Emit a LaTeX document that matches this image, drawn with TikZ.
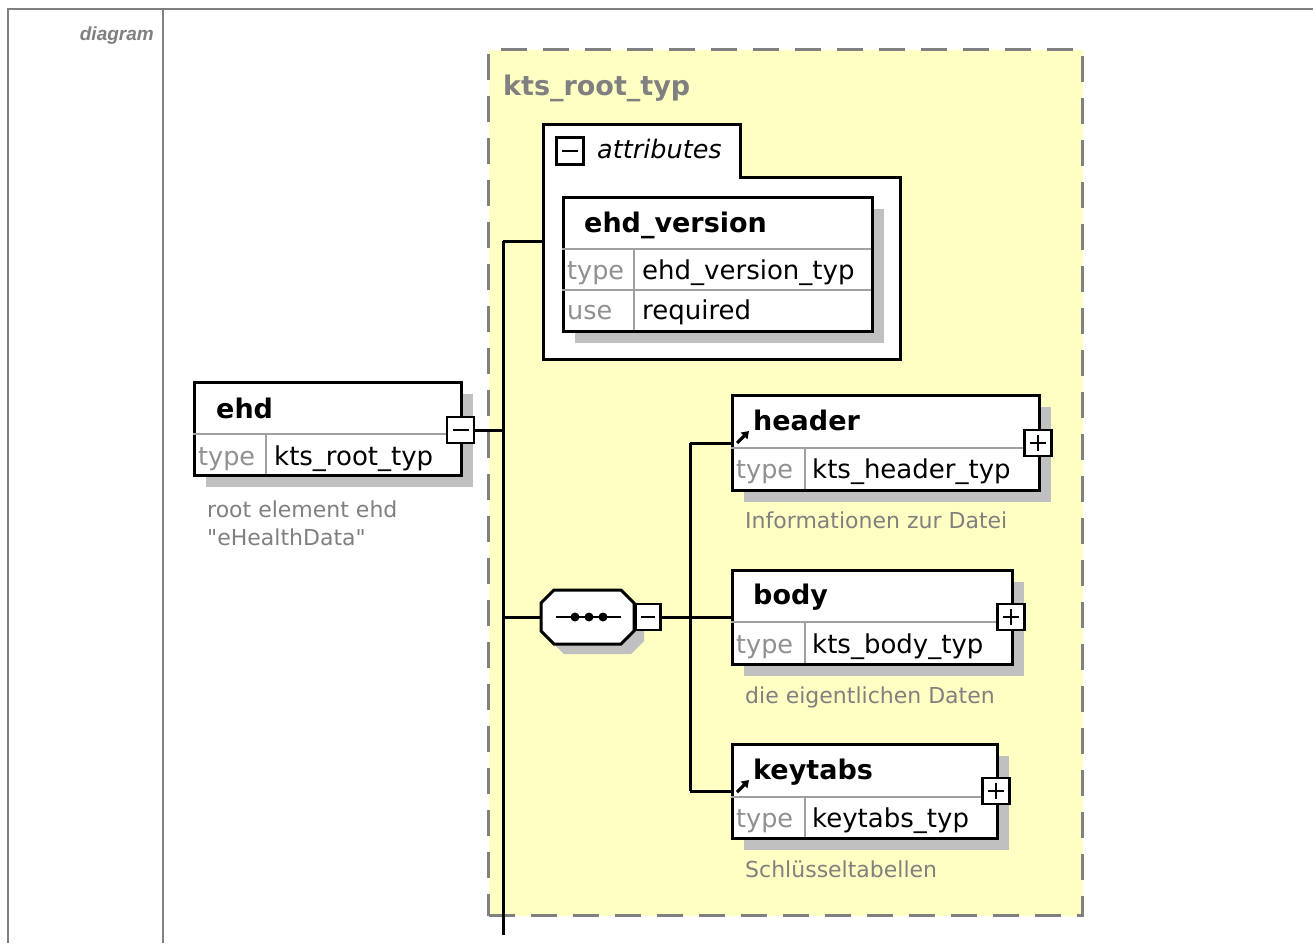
\documentclass[tikz,border=0pt]{standalone}
\usepackage{fontspec}
\setmainfont{DejaVu Sans}
\newfontfamily\cmtfont{DejaVu Sans}[Ligatures=TeXOff]
\newfontfamily\arialf{Liberation Sans}
\usetikzlibrary{shadows,arrows.meta}
\definecolor{ylw}{HTML}{FFFFC4}
\definecolor{framegray}{HTML}{808080}
\definecolor{shad}{HTML}{C0C0C0}
\definecolor{divgray}{HTML}{A0A0A0}
\definecolor{lblgray}{HTML}{909090}
\definecolor{cmtgray}{HTML}{808080}
\begin{document}
\begin{tikzpicture}[x=1pt,y=-1pt,
  ebox/.style={draw=black, line width=3pt, fill=white, inner sep=0pt, anchor=north west,
    drop shadow={shadow xshift=11pt, shadow yshift=-11pt, fill=shad, opacity=1}},
  div/.style={draw=divgray, line width=1.8pt},
  conn/.style={draw=black, line width=3pt},
  pm/.style={draw=black, line width=2.4pt, fill=white, minimum width=26pt, minimum height=26pt, inner sep=0pt},
  pmline/.style={draw=black, line width=2.4pt},
  bname/.style={anchor=base west, inner sep=0pt, font=\fontsize{27}{30}\selectfont\bfseries},
  rowlab/.style={anchor=base west, inner sep=0pt, font=\fontsize{25.5}{30}\selectfont, text=lblgray},
  rowval/.style={anchor=base west, inner sep=0pt, font=\fontsize{26}{30}\selectfont},
  cmt/.style={anchor=base west, inner sep=0pt, font=\cmtfont\fontsize{22}{25}\selectfont, text=cmtgray},
  refarrow/.style={draw=black, line width=3.2pt, -{Triangle[length=7pt,width=9pt]}},
]
\useasboundingbox (0,0) rectangle (1313,943);
\fill[white] (0,0) rectangle (1313,943);

% outer frame
\draw[framegray, line width=2.2pt] (7,9) -- (1313,9);
\draw[framegray, line width=2.2pt] (8,9) -- (8,943);
\draw[framegray, line width=2.2pt] (163,9) -- (163,943);
\node[anchor=base east, inner sep=0pt, font=\arialf\fontsize{19}{22}\selectfont\bfseries\itshape, text=framegray] (diaglbl) at (154,40) {diagram};

% complex type container
\node[draw=framegray, fill=ylw, line width=3pt, dash pattern=on 26pt off 16pt, inner sep=0pt,
  minimum width=594pt, minimum height=866pt, anchor=north west] (root) at (487,48) {};
\node[anchor=base west, inner sep=0pt, font=\fontsize{27}{30}\selectfont\bfseries, text=framegray] (roottitle) at (503,95) {kts\_root\_typ};

% attributes group
\draw[line width=3pt, fill=white] (543,124) -- (740,124) -- (740,177) -- (900,177) -- (900,359) -- (543,359) -- cycle;
\coordinate (attrL) at (543,241);
\node[pm, minimum width=27pt, minimum height=27pt] (attrmin) at (570,151) {};
\draw[pmline] ([xshift=-8pt]attrmin.center) -- ([xshift=8pt]attrmin.center);
\node[anchor=base west, inner sep=0pt, font=\fontsize{25.5}{30}\selectfont\itshape] (attrlbl) at (597,158) {attributes};

% ehd_version attribute
\node[ebox, minimum width=309pt, minimum height=134pt] (ver) at (562,196) {};
\draw[div] (562,249) -- (871,249);
\draw[div] (562,290) -- (871,290);
\draw[div] (634,249) -- (634,330);
\node[bname] (vername) at (584,232) {ehd\_version};
\node[rowlab] (vertl) at (567,279) {type};
\node[rowval] (vertv) at (642,279) {ehd\_version\_typ};
\node[rowlab] (verul) at (567,319) {use};
\node[rowval] (veruv) at (642,319) {required};

% ehd element
\node[ebox, minimum width=267pt, minimum height=93pt] (ehd) at (193,381) {};
\draw[div] (193,434) -- (460,434);
\draw[div] (266,434) -- (266,474);
\node[bname] (ehdname) at (216,418) {ehd};
\node[rowlab] (ehdtl) at (198,465) {type};
\node[rowval] (ehdtv) at (274,465) {kts\_root\_typ};
\node[cmt] (ehdc1) at (207,517) {root element ehd};
\node[cmt] (ehdc2) at (207,545) {"eHealthData"};
\node[pm, minimum width=27pt, minimum height=26pt] (ehdmin) at (460.5,430) {};
\draw[pmline] ([xshift=-8pt]ehdmin.center) -- ([xshift=8pt]ehdmin.center);

% trunk
\coordinate (ttop) at (503,241);
\coordinate (tmid) at (503,430);
\coordinate (tseq) at (503,617);
\coordinate (tbot) at (503,935);
\draw[conn] (ehdmin.east) -- (tmid);
\draw[conn] (ttop) -- (tbot);
\draw[conn] (ttop) -- (attrL);

% sequence compositor
\fill[shad] (564,600) -- (631,600) -- (644,613) -- (644,641) -- (631,654) -- (564,654) -- (551,641) -- (551,613) -- cycle;
\draw[line width=3pt, fill=white] (554,590) -- (621,590) -- (634,603) -- (634,631) -- (621,644) -- (554,644) -- (541,631) -- (541,603) -- cycle;
\coordinate (seqL) at (541,617);
\coordinate (seqA) at (556,617);
\coordinate (seqB) at (621,617);
\draw[line width=2.4pt] (seqA) -- (seqB);
\fill (575,617) circle (4.5pt);
\fill (589,617) circle (4.5pt);
\fill (603,617) circle (4.5pt);
\draw[conn] (tseq) -- (seqL);
\node[pm, minimum width=25pt, minimum height=26pt] (seqmin) at (648,617) {};
\draw[pmline] ([xshift=-7pt]seqmin.center) -- ([xshift=7pt]seqmin.center);

% branch
\coordinate (bh) at (690,443);
\coordinate (bb) at (690,617);
\coordinate (bk) at (690,791);
\coordinate (hL) at (731,443);
\coordinate (bL) at (731,617);
\coordinate (kL) at (731,791);
\draw[conn] (seqmin.east) -- (bb);
\draw[conn] (bh) -- (bk);
\draw[conn] (bh) -- (hL);
\draw[conn] (bb) -- (bL);
\draw[conn] (bk) -- (kL);

% header element
\node[ebox, minimum width=307pt, minimum height=95pt] (header) at (731,394) {};
\draw[div] (731,448) -- (1038,448);
\draw[div] (805,448) -- (805,489);
\node[bname] (hname) at (753,430) {header};
\draw[refarrow] (737,443) -- (749,431);
\node[rowlab] (htl) at (736,478) {type};
\node[rowval] (htv) at (812,478) {kts\_header\_typ};
\node[cmt] (hc) at (745,528) {Informationen zur Datei};
\node[pm, minimum width=27pt, minimum height=26pt] (hplus) at (1038,443) {};
\draw[pmline] ([xshift=-8pt]hplus.center) -- ([xshift=8pt]hplus.center);
\draw[pmline] ([yshift=-8pt]hplus.center) -- ([yshift=8pt]hplus.center);

% body element
\node[ebox, minimum width=280pt, minimum height=94pt] (body) at (731,569) {};
\draw[div] (731,622) -- (1011,622);
\draw[div] (805,622) -- (805,663);
\node[bname] (bname) at (753,604) {body};
\node[rowlab] (btl) at (736,653) {type};
\node[rowval] (btv) at (812,653) {kts\_body\_typ};
\node[cmt] (bc) at (745,703) {die eigentlichen Daten};
\node[pm, minimum width=27pt, minimum height=26pt] (bplus) at (1011,617) {};
\draw[pmline] ([xshift=-8pt]bplus.center) -- ([xshift=8pt]bplus.center);
\draw[pmline] ([yshift=-8pt]bplus.center) -- ([yshift=8pt]bplus.center);

% keytabs element
\node[ebox, minimum width=265pt, minimum height=94pt] (keytabs) at (731,743) {};
\draw[div] (731,797) -- (996,797);
\draw[div] (805,797) -- (805,837);
\node[bname] (kname) at (753,779) {keytabs};
\draw[refarrow] (737,792) -- (749,780);
\node[rowlab] (ktl) at (736,827) {type};
\node[rowval] (ktv) at (812,827) {keytabs\_typ};
\node[cmt] (kc) at (745,877) {Schlüsseltabellen};
\node[pm, minimum width=27pt, minimum height=26pt] (kplus) at (996,791) {};
\draw[pmline] ([xshift=-8pt]kplus.center) -- ([xshift=8pt]kplus.center);
\draw[pmline] ([yshift=-8pt]kplus.center) -- ([yshift=8pt]kplus.center);
\end{tikzpicture}
\end{document}
